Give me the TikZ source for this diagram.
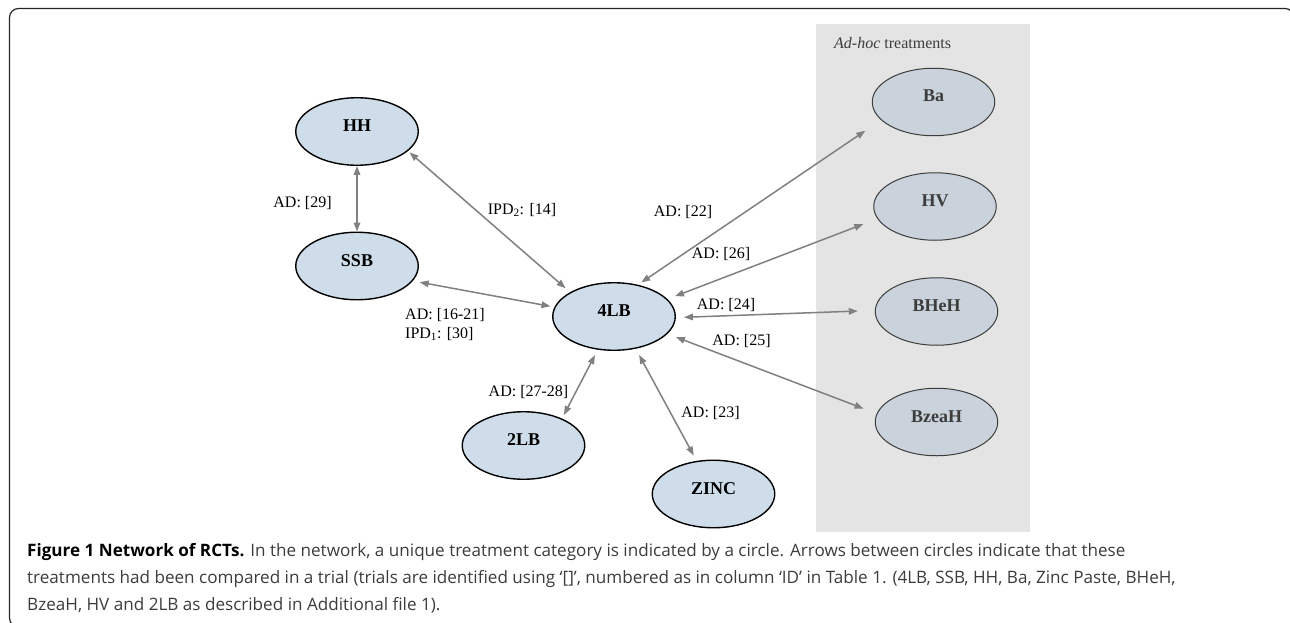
\documentclass[tikz,border=0pt]{standalone}
\usepackage{fontspec}
\setmainfont{Liberation Serif}
\newfontfamily\capfont{Open Sans}
\usepackage{xcolor}
\usetikzlibrary{shapes.geometric}
\usetikzlibrary{arrows.meta}

\definecolor{nodeblue}{RGB}{207,221,235}
\definecolor{nodegray}{RGB}{202,211,220}
\definecolor{boxgray}{RGB}{228,228,228}
\definecolor{linkgray}{RGB}{128,128,128}
\definecolor{textgray}{RGB}{60,60,60}

\begin{document}
\begin{tikzpicture}[x=1pt, y=-1pt,
        treat/.style={ellipse, draw=black, line width=1.4pt, fill=nodeblue, minimum width=122.5pt, minimum height=67.5pt, font=\fontsize{18}{20}\selectfont\bfseries, text height=12pt, text depth=12pt},
        adhoc/.style={treat, draw=textgray, line width=1pt, fill=nodegray, text=textgray},
        link/.style={{Triangle[length=9pt,width=6.5pt]}-{Triangle[length=9pt,width=6.5pt]}, draw=linkgray, line width=1.5pt},
        lab/.style={font=\fontsize{16}{19}\selectfont, inner sep=0pt}]
        \useasboundingbox (0,0) rectangle (1290,623);
        \fill[boxgray] (816,24) rectangle (1030,532);
        \draw[line width=1.2pt, rounded corners=9pt, draw=black!85] (9.5,8.5) rectangle (1294,627);
        \node[lab, anchor=west, text=textgray] (adhoclabel) at (834,43) {\textit{Ad-hoc} treatments};

        \node[treat] (HH) at (357,131.5) {HH};
        \node[treat] (SSB) at (357,266) {SSB};
        \node[treat] (4LB) at (614,316.5) {4LB};
        \node[treat] (2LB) at (523.5,445.5) {2LB};
        \node[treat] (ZINC) at (713.5,494) {ZINC};
        \node[adhoc] (Ba) at (933.5,102) {Ba};
        \node[adhoc] (HV) at (935,206.5) {HV};
        \node[adhoc] (BHeH) at (936.5,311.5) {BHeH};
        \node[adhoc] (BzeaH) at (936.5,422) {BzeaH};

        \draw[link] (HH) -- (SSB);
        \draw[link, shorten <=2pt, shorten >=6pt] (HH.-21) -- (4LB.151);
        \draw[link, shorten <=7pt, shorten >=4pt] (SSB.-15) -- (4LB.171);
        \draw[link, shorten <=4pt, shorten >=19pt] (4LB.53) -- (Ba.199);
        \draw[link, shorten <=8pt, shorten >=15pt] (4LB.18) -- (HV.192);
        \draw[link, shorten <=8pt, shorten >=17pt] (4LB.-1) -- (BHeH.179);
        \draw[link, shorten <=9pt, shorten >=14pt] (4LB.-18) -- (BzeaH.172);
        \draw[link, shorten <=6pt, shorten >=4pt] (4LB.244) -- (2LB.35);
        \draw[link, shorten <=7pt, shorten >=6pt] (4LB.-56) -- (ZINC.117);

        \node[lab] (ad29) at (302.5,203) {AD: [29]};
        \node[lab] (ipd14) at (522,210) {IPD\textsubscript{2}: [14]};
        \node[lab, anchor=west, align=left] (ad16) at (405,324.5) {AD: [16-21]\\IPD\textsubscript{1}: [30]};
        \node[lab] (ad22) at (683,212) {AD: [22]};
        \node[lab] (ad26) at (721,254) {AD: [26]};
        \node[lab] (ad24) at (726,305) {AD: [24]};
        \node[lab] (ad25) at (741.5,341) {AD: [25]};
        \node[lab] (ad23) at (710.5,413) {AD: [23]};
        \node[lab] (ad27) at (528.5,392) {AD: [27-28]};

        \node[anchor=north west, align=left, inner sep=0pt, text=textgray, font=\capfont\fontsize{17.1}{27}\selectfont] (caption) at (27,543) {\textcolor{black}{\bfseries Figure 1 Network of RCTs.} In the network, a unique treatment category is indicated by a circle. Arrows between circles indicate that these\\treatments had been compared in a trial (trials are identified using ‘[]’, numbered as in column ‘ID’ in Table 1. (4LB, SSB, HH, Ba, Zinc Paste, BHeH,\\BzeaH, HV and 2LB as described in Additional file 1).};
    \end{tikzpicture}
\end{document}
